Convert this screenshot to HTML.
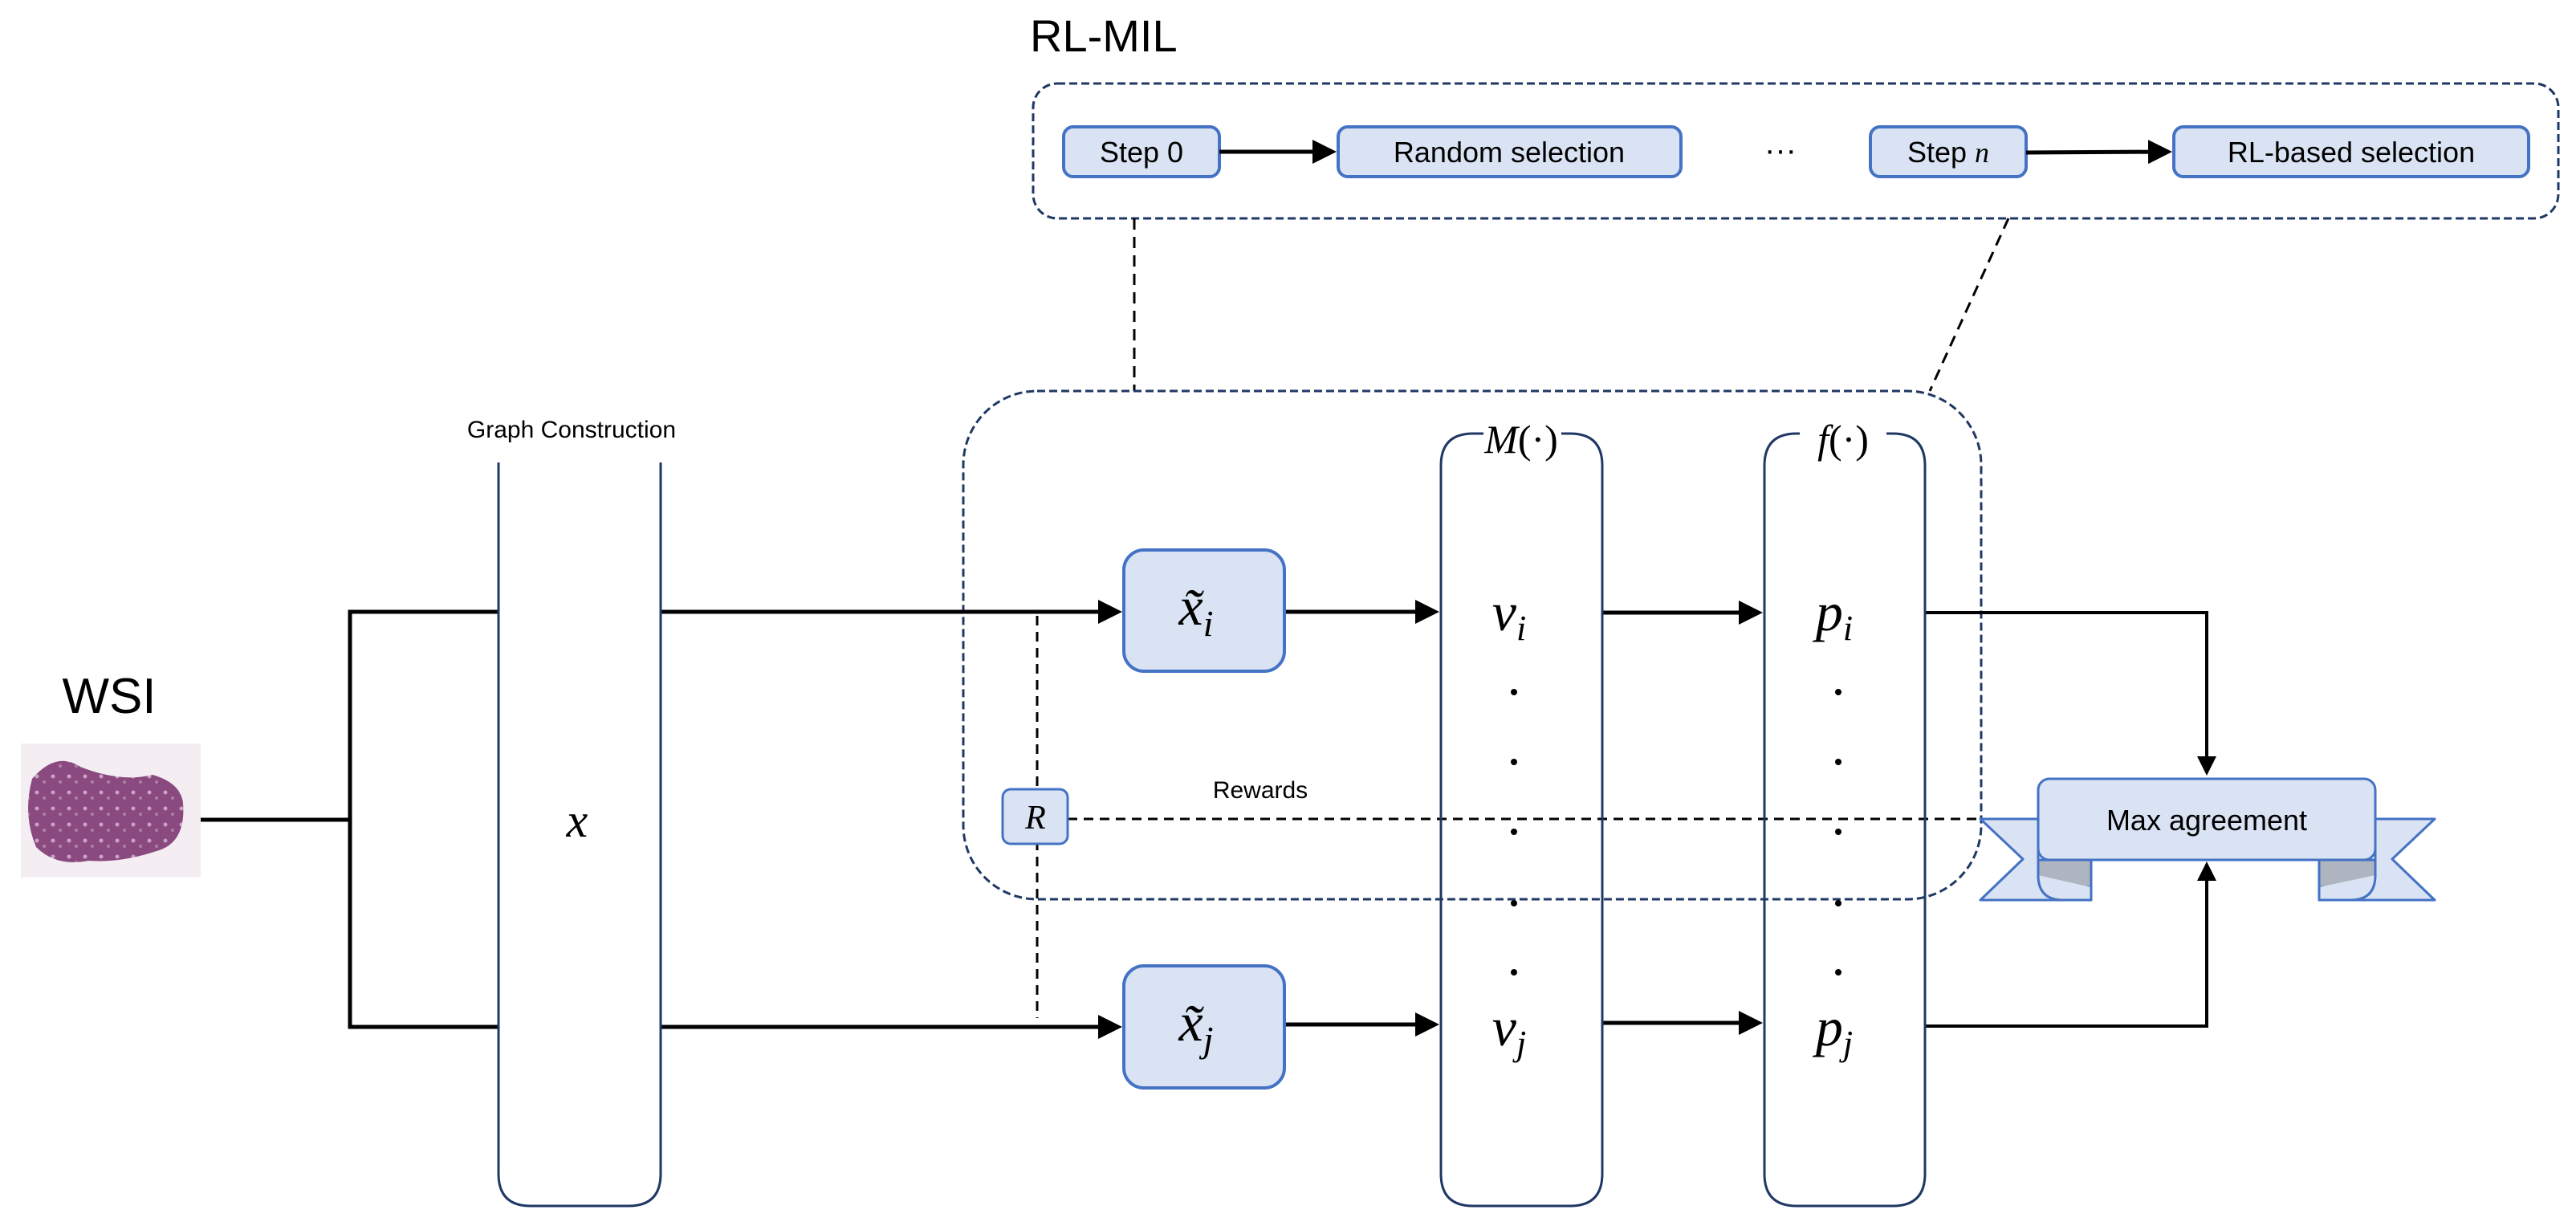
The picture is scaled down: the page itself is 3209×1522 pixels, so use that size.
<!DOCTYPE html>
<html><head><meta charset="utf-8"><style>
html,body{margin:0;padding:0;background:#fff;}
svg{display:block;}
text{font-family:"Liberation Sans",sans-serif;fill:#000;}
.m{font-family:"Liberation Serif",serif;font-style:italic;}
</style></head><body>
<svg width="3209" height="1522" viewBox="0 0 3209 1522" xmlns="http://www.w3.org/2000/svg">
<defs>
<marker id="ar" markerWidth="6" markerHeight="6" refX="5" refY="3" orient="auto" markerUnits="strokeWidth">
<path d="M0,0 L6,3 L0,6 z" fill="#000"/></marker>
<pattern id="tis" width="20" height="20" patternUnits="userSpaceOnUse">
<rect width="20" height="20" fill="#8a4a80"/><circle cx="6" cy="7" r="2.5" fill="#c9a3c4"/><circle cx="15" cy="14" r="2" fill="#b07fa8"/></pattern>
</defs>

<!-- RL-MIL -->
<text x="1283" y="64" font-size="56">RL-MIL</text>
<rect x="1287" y="104" width="1900" height="168" rx="30" fill="none" stroke="#1f3864" stroke-width="3" stroke-dasharray="10,5"/>
<g stroke="#4472c4" stroke-width="4" fill="#dae3f3">
<rect x="1325" y="158" width="194" height="62" rx="12"/>
<rect x="1667" y="158" width="427" height="62" rx="12"/>
<rect x="2330" y="158" width="194" height="62" rx="12"/>
<rect x="2708" y="158" width="442" height="62" rx="12"/>
</g>
<text x="1422" y="202" font-size="36" text-anchor="middle">Step 0</text>
<text x="1880" y="202" font-size="36" text-anchor="middle">Random selection</text>
<text x="2427" y="202" font-size="36" text-anchor="middle">Step <tspan class="m">n</tspan></text>
<text x="2929" y="202" font-size="36" text-anchor="middle">RL-based selection</text>
<text x="2218" y="200" font-size="40" text-anchor="middle">···</text>
<line x1="1519" y1="189" x2="1660" y2="189" stroke="#000" stroke-width="5" marker-end="url(#ar)"/>
<line x1="2524" y1="190" x2="2701" y2="189" stroke="#000" stroke-width="5" marker-end="url(#ar)"/>

<!-- connectors from RL-MIL -->
<line x1="1413" y1="272" x2="1413" y2="487" stroke="#000" stroke-width="3" stroke-dasharray="14,9"/>
<line x1="2502" y1="272" x2="2404" y2="487" stroke="#000" stroke-width="3" stroke-dasharray="14,9"/>

<!-- main dashed box -->
<rect x="1200" y="487" width="1268" height="633" rx="92" fill="none" stroke="#1f3864" stroke-width="3" stroke-dasharray="10,5"/>

<!-- WSI -->
<text x="136" y="888" font-size="62" text-anchor="middle">WSI</text>
<rect x="26" y="926" width="224" height="167" fill="#f4eef2"/>
<path d="M40,970 Q70,935 100,955 Q150,975 190,965 Q225,975 228,1000 Q232,1050 195,1060 Q150,1075 110,1072 Q70,1080 45,1055 Q28,1015 40,970 z" fill="url(#tis)"/>

<!-- main lines -->
<g stroke="#000" stroke-width="5" fill="none">
<polyline points="250,1021 436,1021"/>
<polyline points="621,762 436,762 436,1279 621,1279"/>
<line x1="823" y1="762" x2="1393" y2="762" marker-end="url(#ar)"/>
<line x1="823" y1="1279" x2="1393" y2="1279" marker-end="url(#ar)"/>
<line x1="1600" y1="762" x2="1788" y2="762" marker-end="url(#ar)"/>
<line x1="1600" y1="1276" x2="1788" y2="1276" marker-end="url(#ar)"/>
<line x1="1996" y1="763" x2="2191" y2="763" marker-end="url(#ar)"/>
<line x1="1996" y1="1274" x2="2191" y2="1274" marker-end="url(#ar)"/>
<polyline points="2398,763 2749,763 2749,962" marker-end="url(#ar)" stroke-width="4"/>
<polyline points="2398,1278 2749,1278 2749,1077" marker-end="url(#ar)" stroke-width="4"/>
</g>

<!-- graph construction column -->
<text x="712" y="545" font-size="30" text-anchor="middle">Graph Construction</text>
<path d="M621,576 L621,1462 Q621,1502 661,1502 L783,1502 Q823,1502 823,1462 L823,576" fill="none" stroke="#1f3864" stroke-width="3"/>
<text x="719" y="1042" font-size="60" class="m" text-anchor="middle">x</text>

<!-- R and dashed -->
<line x1="1292" y1="767" x2="1292" y2="1268" stroke="#000" stroke-width="3" stroke-dasharray="12,8"/>
<line x1="1330" y1="1020" x2="2467" y2="1020" stroke="#000" stroke-width="3" stroke-dasharray="12,8"/>
<rect x="1249" y="983" width="81" height="68" rx="10" fill="#dae3f3" stroke="#4472c4" stroke-width="3"/>
<text x="1290" y="1032" font-size="42" class="m" text-anchor="middle">R</text>
<text x="1570" y="994" font-size="30" text-anchor="middle">Rewards</text>

<!-- x tilde boxes -->
<rect x="1400" y="685" width="200" height="151" rx="25" fill="#dae3f3" stroke="#4472c4" stroke-width="4"/>
<rect x="1400" y="1203" width="200" height="152" rx="25" fill="#dae3f3" stroke="#4472c4" stroke-width="4"/>
<text x="1490" y="778" font-size="68" class="m" text-anchor="middle">x̃<tspan font-size="46" dy="14">i</tspan></text>
<text x="1490" y="1296" font-size="68" class="m" text-anchor="middle">x̃<tspan font-size="46" dy="14">j</tspan></text>

<!-- M column -->
<path d="M1848,540 L1835,540 Q1795,540 1795,580 L1795,1462 Q1795,1502 1835,1502 L1956,1502 Q1996,1502 1996,1462 L1996,580 Q1996,540 1956,540 L1945,540" fill="none" stroke="#1f3864" stroke-width="3"/>
<text x="1895" y="564" font-size="50" class="m" text-anchor="middle">M<tspan font-style="normal">(·)</tspan></text>
<!-- f column -->
<path d="M2242,540 L2238,540 Q2198,540 2198,580 L2198,1462 Q2198,1502 2238,1502 L2358,1502 Q2398,1502 2398,1462 L2398,580 Q2398,540 2358,540 L2350,540" fill="none" stroke="#1f3864" stroke-width="3"/>
<text x="2296" y="564" font-size="50" class="m" text-anchor="middle">f<tspan font-style="normal">(·)</tspan></text>

<g text-anchor="middle">
<text x="1880" y="785" font-size="68" class="m">v<tspan font-size="44" dy="12">i</tspan></text>
<text x="1880" y="1302" font-size="68" class="m">v<tspan font-size="44" dy="12">j</tspan></text>
<text x="2285" y="785" font-size="68" class="m">p<tspan font-size="44" dy="12">i</tspan></text>
<text x="2285" y="1302" font-size="68" class="m">p<tspan font-size="44" dy="12">j</tspan></text>
</g>
<g fill="#000">
<circle cx="1886" cy="862" r="4"/><circle cx="1886" cy="949" r="4"/><circle cx="1886" cy="1036" r="4"/><circle cx="1886" cy="1125" r="4"/><circle cx="1886" cy="1211" r="4"/>
<circle cx="2290" cy="862" r="4"/><circle cx="2290" cy="949" r="4"/><circle cx="2290" cy="1036" r="4"/><circle cx="2290" cy="1125" r="4"/><circle cx="2290" cy="1211" r="4"/>
</g>

<!-- ribbon -->
<g stroke="#4472c4" stroke-width="3" stroke-linejoin="round">
<path d="M2539,1020 L2467,1020 L2520,1070 L2467,1121 L2605,1121 L2605,1071 L2539,1071 z" fill="#dae3f3"/>
<path d="M2959,1020 L3033,1020 L2980,1070 L3033,1121 L2889,1121 L2889,1071 L2959,1071 z" fill="#dae3f3"/>
<path d="M2539,1071 L2539,1090 Q2539,1105 2560,1105 L2605,1105 L2605,1071 z" fill="#aeb4c0"/>
<path d="M2959,1071 L2959,1090 Q2959,1105 2938,1105 L2889,1105 L2889,1071 z" fill="#aeb4c0"/>
<path d="M2539,1090 Q2539,1121 2570,1121 L2605,1121 L2605,1105" fill="#dae3f3"/>
<path d="M2959,1090 Q2959,1121 2928,1121 L2889,1121 L2889,1105" fill="#dae3f3"/>
<rect x="2539" y="970" width="420" height="101" rx="14" fill="#dae3f3"/>
</g>
<text x="2749" y="1034" font-size="36" text-anchor="middle">Max agreement</text>
</svg>
</body></html>
